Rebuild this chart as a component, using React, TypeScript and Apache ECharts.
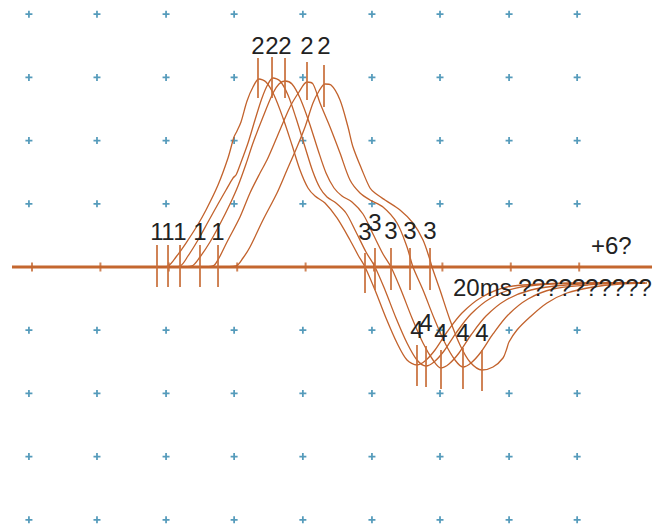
import React, { useEffect, useRef } from "react";
import * as echarts from "echarts";

// Five superimposed action-potential traces: [time (ms), potential (mV)]
const trace1: number[][] = [
  [36.55, 0], [39.77, 0.32], [42.11, 3.16], [45.03, 7.59], [48.25, 12.97], [50.88, 18.04],
  [54.39, 25.95], [57.31, 34.49], [59.06, 41.14], [59.94, 43.04], [61.11, 45.89], [62.87, 52.53],
  [64.62, 56.96], [66.37, 59.49], [68.42, 58.54], [70.76, 54.43], [73.39, 47.15], [76.02, 38.61],
  [78.36, 30.7], [80.7, 25.0], [82.75, 22.47], [85.67, 20.25], [89.18, 15.51], [92.98, 8.54],
  [95.32, 3.8], [97.37, 0], [100.29, -7.28], [103.51, -16.14], [106.73, -24.05], [109.65, -29.43],
  [112.57, -31.01], [114.91, -29.75], [117.84, -26.27], [121.35, -20.57], [125.73, -14.56],
  [131.58, -9.49], [138.89, -6.33], [149.12, -5.38], [163.16, -5.06], [179.24, -5.06],
];
const trace2: number[][] = [
  [39.77, 0], [43.28, 0.32], [45.61, 3.48], [48.54, 8.54], [51.46, 14.24], [54.39, 19.94],
  [56.73, 24.37], [58.77, 28.16], [59.65, 29.11], [60.82, 32.28], [63.16, 39.24], [65.2, 46.52],
  [67.25, 53.48], [69.01, 57.91], [70.47, 59.81], [72.52, 58.86], [74.85, 54.43], [77.19, 47.15],
  [79.83, 37.97], [82.16, 30.06], [84.21, 25.0], [86.26, 22.15], [88.89, 20.25], [91.81, 17.09],
  [94.74, 11.08], [97.66, 4.75], [100.29, 0], [103.22, -7.28], [106.43, -16.14], [109.65, -24.05],
  [112.57, -29.43], [115.21, -31.33], [117.54, -30.06], [120.47, -26.58], [123.98, -20.89],
  [128.36, -14.87], [134.21, -9.81], [141.52, -6.65], [151.76, -5.38], [166.08, -5.06], [179.24, -5.06],
];
const trace3: number[][] = [
  [43.28, 0], [46.78, 0.32], [49.12, 3.16], [52.05, 7.91], [54.97, 13.61], [57.9, 19.94],
  [60.23, 25.63], [62.57, 32.59], [64.62, 39.24], [67.54, 47.47], [70.47, 55.06], [72.22, 57.91],
  [73.98, 58.86], [76.02, 57.91], [78.36, 53.48], [81.0, 45.89], [83.63, 37.03], [85.97, 29.75],
  [88.31, 25.0], [90.64, 22.47], [93.57, 20.57], [96.78, 16.77], [99.71, 10.44], [102.63, 4.11],
  [104.97, 0], [107.9, -7.28], [111.11, -16.14], [114.33, -24.05], [117.25, -29.43], [119.59, -31.96],
  [121.93, -30.7], [124.85, -27.22], [128.36, -21.52], [132.75, -15.51], [138.6, -10.44],
  [145.91, -7.28], [156.14, -5.7], [169.01, -5.06], [179.24, -5.06],
];
const trace4: number[][] = [
  [49.12, 0], [52.92, 0.32], [54.68, 2.85], [57.02, 7.91], [60.82, 15.82], [63.74, 23.42],
  [66.67, 29.75], [68.71, 33.86], [71.64, 41.14], [75.44, 50.63], [78.07, 55.38], [80.41, 58.54],
  [82.16, 57.91], [84.21, 51.9], [87.14, 44.3], [90.06, 36.08], [92.98, 27.53], [95.91, 23.42],
  [98.83, 21.2], [102.63, 18.99], [106.73, 13.92], [109.65, 6.33], [111.4, 0], [114.33, -7.28],
  [117.54, -16.14], [120.76, -24.05], [123.68, -29.43], [126.02, -31.65], [128.36, -30.38],
  [131.29, -26.9], [134.8, -21.2], [139.18, -15.19], [145.03, -10.13], [152.34, -6.96],
  [162.57, -5.7], [171.93, -5.06], [179.24, -5.06],
];
const trace5: number[][] = [
  [54.39, 0], [59.65, 0.32], [61.7, 2.85], [63.74, 6.33], [67.54, 14.87], [71.64, 23.42],
  [74.56, 30.7], [77.49, 37.97], [79.83, 44.3], [82.16, 51.9], [83.92, 55.7], [85.67, 57.91],
  [87.43, 57.59], [90.06, 52.85], [92.4, 44.3], [93.86, 37.97], [96.49, 30.7], [98.83, 25.0],
  [100.29, 23.42], [103.22, 21.2], [107.6, 18.04], [111.4, 13.92], [114.33, 8.54], [116.38, 2.22],
  [116.96, 0], [119.3, -7.28], [122.22, -16.77], [125.15, -24.68], [128.07, -30.06], [131.58, -32.59],
  [134.8, -31.65], [137.72, -28.8], [138.89, -25.63], [139.47, -23.73], [141.81, -19.94],
  [145.61, -15.82], [150.59, -11.39], [156.43, -8.23], [164.04, -6.33], [171.93, -5.38], [179.82, -5.06],
];
const traces = [trace1, trace2, trace3, trace4, trace5];

// Phase markers: 1 = onset, 2 = peak, 3 = zero crossing, 4 = trough
const phase1X = [36.55, 39.77, 43.28, 49.12, 54.39];
const phase1Top = [6.96, 6.96, 6.96, 6.96, 6.96];
const phase1Bottom = [-6.33, -6.33, -6.33, -6.33, -6.33];
const phase1LabelY = [11.08, 11.08, 11.08, 11.08, 11.08];

const phase2X = [66.08, 70.18, 73.98, 80.41, 85.38];
const phase2Top = [66.14, 66.46, 66.14, 64.87, 63.92];
const phase2Bottom = [53.48, 53.48, 53.48, 52.85, 50.63];
const phase2LabelY = [70.25, 70.25, 70.25, 70.25, 70.25];

const phase3X = [97.37, 100.29, 104.97, 110.53, 116.38];
const phase3Top = [4.43, 6.0, 6.0, 6.0, 6.0];
const phase3Bottom = [-8.23, -7.28, -7.28, -7.28, -7.28];
const phase3LabelY = [11.08, 14.24, 11.4, 11.4, 11.4];

const phase4X = [112.57, 115.21, 119.59, 126.02, 131.58];
const phase4Top = [-24.68, -25.0, -26.27, -25.63, -26.27];
const phase4Bottom = [-37.66, -37.97, -38.61, -38.61, -39.24];
const phase4LabelY = [-19.9, -17.7, -20.6, -20.6, -20.6];

// Baseline axis and its ticks
const axisSpan = [-5.85, 181.29];
const axisTicks = [0, 20, 40, 60, 80, 100, 120, 140, 160];

// Crosshair reference grid
const crossCols = [-0.9, 19.0, 39.2, 59.1, 79.2, 99.4, 119.3, 139.5, 159.4];
const crossRows = [80, 60, 40, 20, -20, -40, -60, -80];

const scaleText = "20ms ??????????";
const gainText = "+6?";

const TRACE_COLOR = "#c2622c";
const MARK_COLOR = "#c86f3a";
const CROSS_COLOR = "#2a82aa";
const TEXT_COLOR = "#222222";
const FONT = '24px "Liberation Sans", Arial, Helvetica, sans-serif';

type MarkRow = { x: number; top: number; bottom: number; labelY: number; label: string };

function buildMarks(xs: number[], tops: number[], bottoms: number[], labelYs: number[], label: string): MarkRow[] {
  return xs.map((x, i) => ({ x, top: tops[i], bottom: bottoms[i], labelY: labelYs[i], label }));
}

export default function App() {
  const ref = useRef<HTMLDivElement>(null);

  useEffect(() => {
    if (!ref.current) return;
    const chart = echarts.init(ref.current, undefined, { renderer: "svg" });

    const marks: MarkRow[] = [
      ...buildMarks(phase1X, phase1Top, phase1Bottom, phase1LabelY, "1"),
      ...buildMarks(phase2X, phase2Top, phase2Bottom, phase2LabelY, "2"),
      ...buildMarks(phase3X, phase3Top, phase3Bottom, phase3LabelY, "3"),
      ...buildMarks(phase4X, phase4Top, phase4Bottom, phase4LabelY, "4"),
    ];

    const crosses: number[][] = [];
    crossRows.forEach((y) => crossCols.forEach((x) => crosses.push([x, y])));

    const xMin = -9.357;
    const xMax = 185.088;
    const yMin = -83.861;
    const yMax = 84.494;

    chart.setOption({
      animation: false,
      grid: { left: 0, right: 0, top: 0, bottom: 0 },
      xAxis: { type: "value", min: xMin, max: xMax, show: false },
      yAxis: { type: "value", min: yMin, max: yMax, show: false },
      series: [
        {
          type: "scatter",
          data: crosses,
          symbol: "path://M3,0h2v3h3v2h-3v3h-2v-3h-3v-2h3z",
          symbolSize: 7,
          itemStyle: { color: CROSS_COLOR },
          silent: true,
          z: 1,
        },
        {
          type: "line",
          data: axisSpan.map((x) => [x, 0]),
          showSymbol: false,
          lineStyle: { color: "#c4672f", width: 3 },
          silent: true,
          z: 2,
        },
        {
          type: "scatter",
          data: axisTicks.map((x) => [x, 0]),
          symbol: "rect",
          symbolSize: [2, 9],
          itemStyle: { color: "#c4672f" },
          silent: true,
          z: 2,
        },
        ...traces.map((t) => ({
          type: "line",
          data: t,
          showSymbol: false,
          smooth: 0.3,
          lineStyle: { color: TRACE_COLOR, width: 1.3 },
          silent: true,
          z: 3,
        })),
        {
          type: "custom",
          data: marks.map((m) => [m.x, m.top, m.bottom, m.labelY]),
          encode: { x: 0, y: [1, 2] },
          silent: true,
          z: 4,
          renderItem: (params: any, api: any) => {
            const m = marks[params.dataIndex];
            const p1 = api.coord([m.x, m.top]);
            const p2 = api.coord([m.x, m.bottom]);
            const pl = api.coord([m.x, m.labelY]);
            return {
              type: "group",
              children: [
                {
                  type: "line",
                  shape: { x1: p1[0], y1: p1[1], x2: p2[0], y2: p2[1] },
                  style: { stroke: MARK_COLOR, lineWidth: 1.8, opacity: 0.95 },
                },
                {
                  type: "text",
                  x: pl[0],
                  y: pl[1],
                  style: {
                    text: m.label,
                    fill: TEXT_COLOR,
                    font: FONT,
                    align: "center",
                    verticalAlign: "middle",
                  },
                },
              ],
            };
          },
        },
      ],
      graphic: [
        {
          type: "text",
          x: 453,
          y: 287,
          z: 10,
          style: { text: scaleText, fill: TEXT_COLOR, font: FONT, align: "left", verticalAlign: "middle" },
        },
        {
          type: "text",
          x: 591,
          y: 245,
          z: 10,
          style: { text: gainText, fill: TEXT_COLOR, font: FONT, align: "left", verticalAlign: "middle" },
        },
      ],
    });

    return () => chart.dispose();
  }, []);

  return (
    <div
      ref={ref}
      style={{ position: "fixed", left: 0, top: 0, width: 665, height: 532, background: "#ffffff" }}
    />
  );
}
